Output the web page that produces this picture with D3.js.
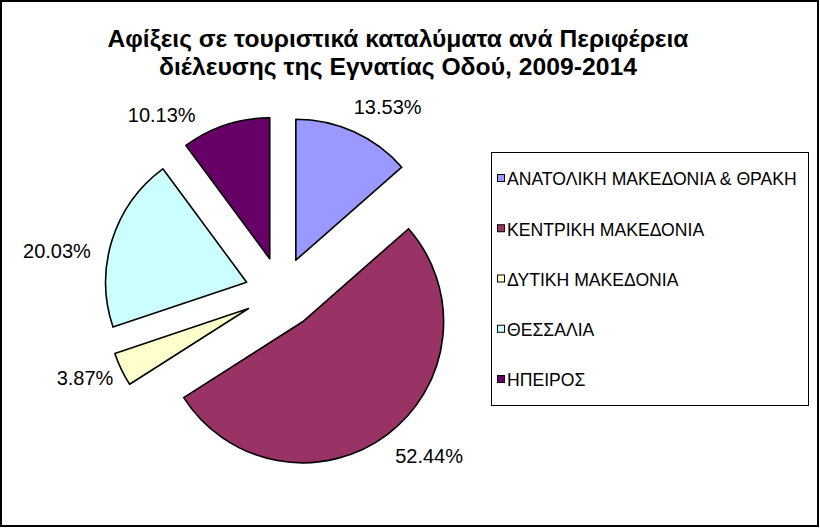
<!DOCTYPE html>
<html>
<head>
<meta charset="utf-8">
<script src="https://cdn.jsdelivr.net/npm/d3@7/dist/d3.min.js"></script>
<style>
  html, body { margin: 0; padding: 0; background: #fff; }
  svg { display: block; font-family: "Liberation Sans", Arial, sans-serif; }
</style>
</head>
<body>
<svg id="chart" width="820" height="528"></svg>
<script>
// ---- data ----
const categories = [
  "ΑΝΑΤΟΛΙΚΗ ΜΑΚΕΔΟΝΙΑ & ΘΡΑΚΗ",
  "ΚΕΝΤΡΙΚΗ ΜΑΚΕΔΟΝΙΑ",
  "ΔΥΤΙΚΗ ΜΑΚΕΔΟΝΙΑ",
  "ΘΕΣΣΑΛΙΑ",
  "ΗΠΕΙΡΟΣ"
];
const values = [13.53, 52.44, 3.87, 20.03, 10.13];
const valueLabels = ["13.53%", "52.44%", "3.87%", "20.03%", "10.13%"];
const colors = ["#9999FF", "#993366", "#FFFFCC", "#CCFFFF", "#660066"];
const titleLines = [
  "Αφίξεις σε τουριστικά καταλύματα ανά Περιφέρεια",
  "διέλευσης της Εγνατίας Οδού, 2009-2014"
];

// ---- layout ----
const W = 820, H = 528;
const cx = 281, cy = 293, R = 141, explode = 36, labelR = 215;
const labelNudge = [[18, 10], [19, -9], [-2, -8], [-19, 22], [-52, 26]];
const titleWidths = [581, 478];

const svg = d3.select("#chart");

svg.append("rect")
  .attr("x", 1).attr("y", 1).attr("width", W - 3).attr("height", H - 3)
  .attr("fill", "#fff").attr("stroke", "#000").attr("stroke-width", 2);

// title
svg.append("g").selectAll("text").data(titleLines).join("text")
  .attr("x", 398)
  .attr("y", (d, i) => 47 + i * 28)
  .attr("text-anchor", "middle")
  .attr("font-size", 24)
  .attr("font-weight", "bold")
  .attr("fill", "#000")
  .attr("textLength", (d, i) => titleWidths[i])
  .attr("lengthAdjust", "spacingAndGlyphs")
  .text(d => d);

// pie
const pie = d3.pie().sort(null).value(d => d).startAngle(0).endAngle(2 * Math.PI);
const arcs = pie(values);
const arc = d3.arc().innerRadius(0).outerRadius(R);

const g = svg.append("g").attr("transform", `translate(${cx},${cy})`);

function dir(a) { return [Math.sin(a), -Math.cos(a)]; }

g.selectAll("path").data(arcs).join("path")
  .attr("d", arc)
  .attr("transform", d => {
    const m = (d.startAngle + d.endAngle) / 2;
    const [dx, dy] = dir(m);
    return `translate(${dx * explode},${dy * explode})`;
  })
  .attr("fill", (d, i) => colors[i])
  .attr("stroke", "#000")
  .attr("stroke-width", 1.6)
  .attr("stroke-linejoin", "round");

g.selectAll("text.lbl").data(arcs).join("text")
  .attr("class", "lbl")
  .attr("x", (d, i) => dir((d.startAngle + d.endAngle) / 2)[0] * labelR + labelNudge[i][0])
  .attr("y", (d, i) => dir((d.startAngle + d.endAngle) / 2)[1] * labelR + labelNudge[i][1])
  .attr("dy", "0.36em")
  .attr("text-anchor", "middle")
  .attr("font-size", 20)
  .attr("fill", "#000")
  .text((d, i) => valueLabels[i]);

// legend
const legend = svg.append("g");
legend.append("rect")
  .attr("x", 491.5).attr("y", 152.5).attr("width", 317).attr("height", 253)
  .attr("fill", "#fff").attr("stroke", "#000").attr("stroke-width", 1);

const rowY = d3.scalePoint().domain(categories).range([179, 380]);
const items = legend.selectAll("g.item").data(categories).join("g")
  .attr("class", "item")
  .attr("transform", d => `translate(0,${rowY(d)})`);
items.append("rect")
  .attr("x", 497.5).attr("y", -4.5).attr("width", 7).attr("height", 7)
  .attr("fill", (d, i) => colors[i]).attr("stroke", "#000").attr("stroke-width", 1);
items.append("text")
  .attr("x", 507).attr("y", 0).attr("dy", "0.36em")
  .attr("font-size", 17.6)
  .attr("fill", "#000")
  .text(d => d);
</script>
</body>
</html>
